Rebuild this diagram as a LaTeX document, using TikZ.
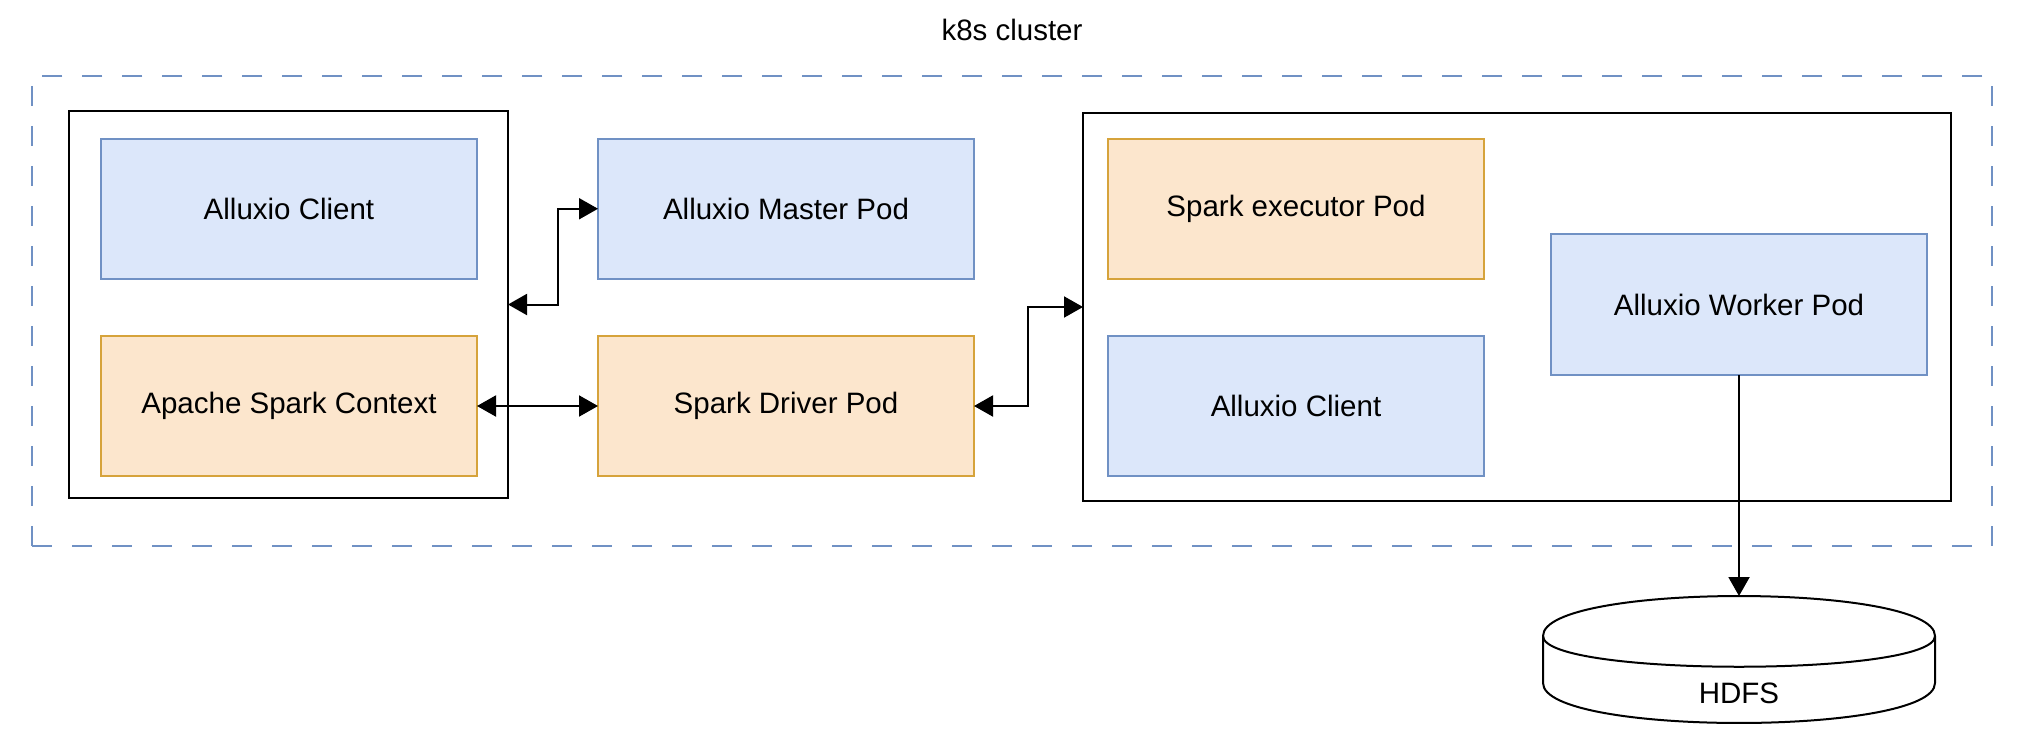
\documentclass[tikz,border=0pt]{standalone}
\usepackage{fontspec}
\setmainfont{Liberation Sans}
\usetikzlibrary{arrows.meta}
\definecolor{bluefill}{HTML}{DCE7FA}
\definecolor{bluedraw}{HTML}{7091C4}
\definecolor{orfill}{HTML}{FCE6CD}
\definecolor{ordraw}{HTML}{D6A33B}
\tikzset{
  lbl/.style={font=\fontsize{29.5}{35}\selectfont},
  bluebox/.style={lbl, draw=bluedraw, fill=bluefill, line width=2pt, minimum width=376pt, minimum height=140.5pt, inner sep=0pt, outer sep=0pt},
  orbox/.style={lbl, draw=ordraw, fill=orfill, line width=2pt, minimum width=376pt, minimum height=140.5pt, inner sep=0pt, outer sep=0pt},
  podbox/.style={draw=black, line width=2.5pt, inner sep=0pt, outer sep=0pt},
  clusterbox/.style={draw=bluedraw, line width=2pt, dash pattern=on 20pt off 20pt, inner sep=0pt, outer sep=0pt},
  conn/.style={line width=2pt, -{Triangle[length=19pt, width=21pt]}},
  bconn/.style={line width=2pt, {Triangle[length=19pt, width=21pt]}-{Triangle[length=19pt, width=21pt]}},
}
\begin{document}
\begin{tikzpicture}[x=1pt, y=-1pt]
\useasboundingbox (0,0) rectangle (2028,736);
% cluster
\node[clusterbox, minimum width=1960pt, minimum height=470pt] (cluster) at (1012.3,310.8) {};
\node[lbl] (k8s) at (1012,30) {k8s cluster};
% pod boxes
\node[podbox, minimum width=439pt, minimum height=387pt] (leftbox) at (288.5,304.5) {};
\node[podbox, minimum width=868pt, minimum height=388pt] (rightbox) at (1517,307) {};
% inner boxes
\node[bluebox] (client1) at (289,208.75) {Alluxio Client};
\node[orbox] (context) at (289,406) {Apache Spark Context};
\node[bluebox] (master) at (786,208.75) {Alluxio Master Pod};
\node[orbox] (driver) at (786,406) {Spark Driver Pod};
\node[orbox] (executor) at (1296,208.75) {Spark executor Pod};
\node[bluebox] (client2) at (1296,406) {Alluxio Client};
\node[bluebox, minimum width=375.5pt, minimum height=141pt] (worker) at (1739,304.5) {Alluxio Worker Pod};
% HDFS cylinder (top at y=596, bottom 723, x 1543..1935)
\coordinate (hdfstop) at (1739,596);
\draw[line width=2pt, fill=white]
  (1543,636) .. controls (1543,582.7) and (1935,582.7) .. (1935,636)
  -- (1935,683) .. controls (1935,736.3) and (1543,736.3) .. (1543,683) -- cycle;
\draw[line width=2pt] (1543,636) .. controls (1543,677) and (1935,677) .. (1935,636);
\node[lbl] (hdfs) at (1739,693) {HDFS};
% connectors
\draw[bconn] (leftbox.east) -- ++(50,0) |- (master.west);
\draw[bconn] (context.east) -- (driver.west);
\draw[bconn] (driver.east) -- ++(54,0) |- (rightbox.west);
\draw[conn] (worker.south) -- (hdfstop);
\end{tikzpicture}
\end{document}
